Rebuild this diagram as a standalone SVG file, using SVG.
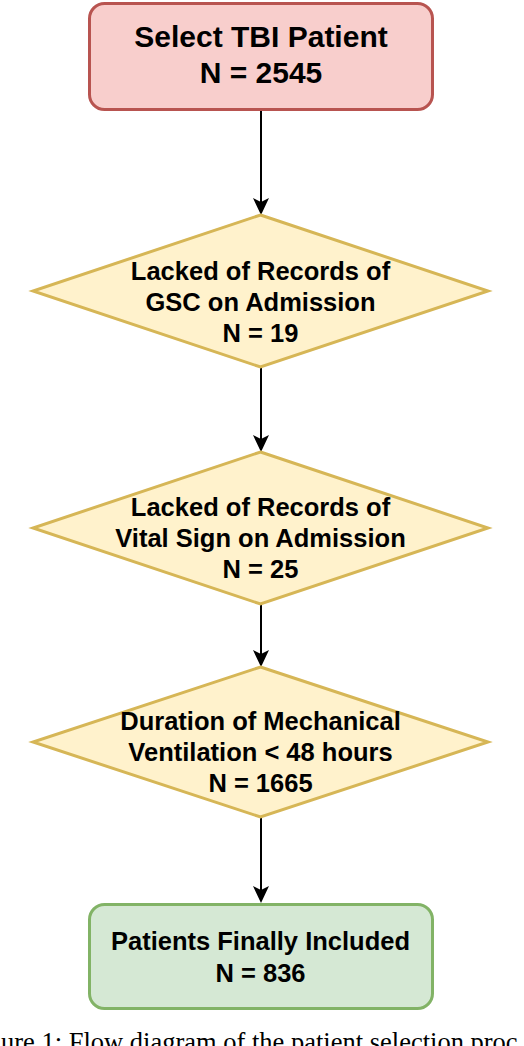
<svg xmlns="http://www.w3.org/2000/svg" width="524" height="1046" viewBox="0 0 524 1046">
<style>
.lbl{font-family:"Liberation Sans",Arial,Helvetica,sans-serif;font-weight:bold;fill:#000;text-anchor:middle}
.big{font-size:30px}
.mid{font-size:25.5px}
.dia{fill:#fff2cc;stroke:#d6b656;stroke-width:3}
.edge{stroke:#000;stroke-width:2;fill:none;marker-end:url(#arr)}
.cap{font-family:"Liberation Serif","Times New Roman",serif;font-size:26.5px;fill:#000}
</style>
<defs>
<marker id="arr" markerUnits="userSpaceOnUse" markerWidth="20" markerHeight="18" refX="14" refY="8" orient="auto">
<path d="M0,0 L17,8 L0,16 L4,8 z" fill="#000"/>
</marker>
</defs>
<rect width="524" height="1046" fill="#fff"/>
<g id="connectors">
<line class="edge" x1="261" y1="111" x2="261" y2="212"/>
<line class="edge" x1="261" y1="367" x2="261" y2="449"/>
<line class="edge" x1="261" y1="604" x2="261" y2="664"/>
<line class="edge" x1="261" y1="817" x2="261" y2="900"/>
</g>
<g id="node-start">
<rect x="89.5" y="3.5" width="343" height="106" rx="15" fill="#f8cecc" stroke="#b85450" stroke-width="3"/>
<text class="lbl big" x="261" y="47">Select TBI Patient</text>
<text class="lbl big" x="261" y="83">N = 2545</text>
</g>
<g id="node-gsc">
<polygon class="dia" points="260.5,215 488,291 260.5,367 33,291"/>
<text class="lbl mid" x="260.5" y="280">Lacked of Records of</text>
<text class="lbl mid" x="260.5" y="311">GSC on Admission</text>
<text class="lbl mid" x="260.5" y="342">N = 19</text>
</g>
<g id="node-vital">
<polygon class="dia" points="260.5,452 488,528 260.5,604 33,528"/>
<text class="lbl mid" x="260.5" y="516">Lacked of Records of</text>
<text class="lbl mid" x="260.5" y="547">Vital Sign on Admission</text>
<text class="lbl mid" x="260.5" y="578">N = 25</text>
</g>
<g id="node-vent">
<polygon class="dia" points="260.5,667 488,742 260.5,817 33,742"/>
<text class="lbl mid" x="260.5" y="730">Duration of Mechanical</text>
<text class="lbl mid" x="260.5" y="761">Ventilation &lt; 48 hours</text>
<text class="lbl mid" x="260.5" y="792">N = 1665</text>
</g>
<g id="node-final">
<rect x="89.5" y="904.5" width="343" height="104" rx="15" fill="#d5e8d4" stroke="#82b366" stroke-width="3"/>
<text class="lbl mid" x="260.5" y="950">Patients Finally Included</text>
<text class="lbl mid" x="260.5" y="982">N = 836</text>
</g>
<text class="cap" x="1" y="1051">ure 1: Flow diagram of the patient selection proc</text>
</svg>
